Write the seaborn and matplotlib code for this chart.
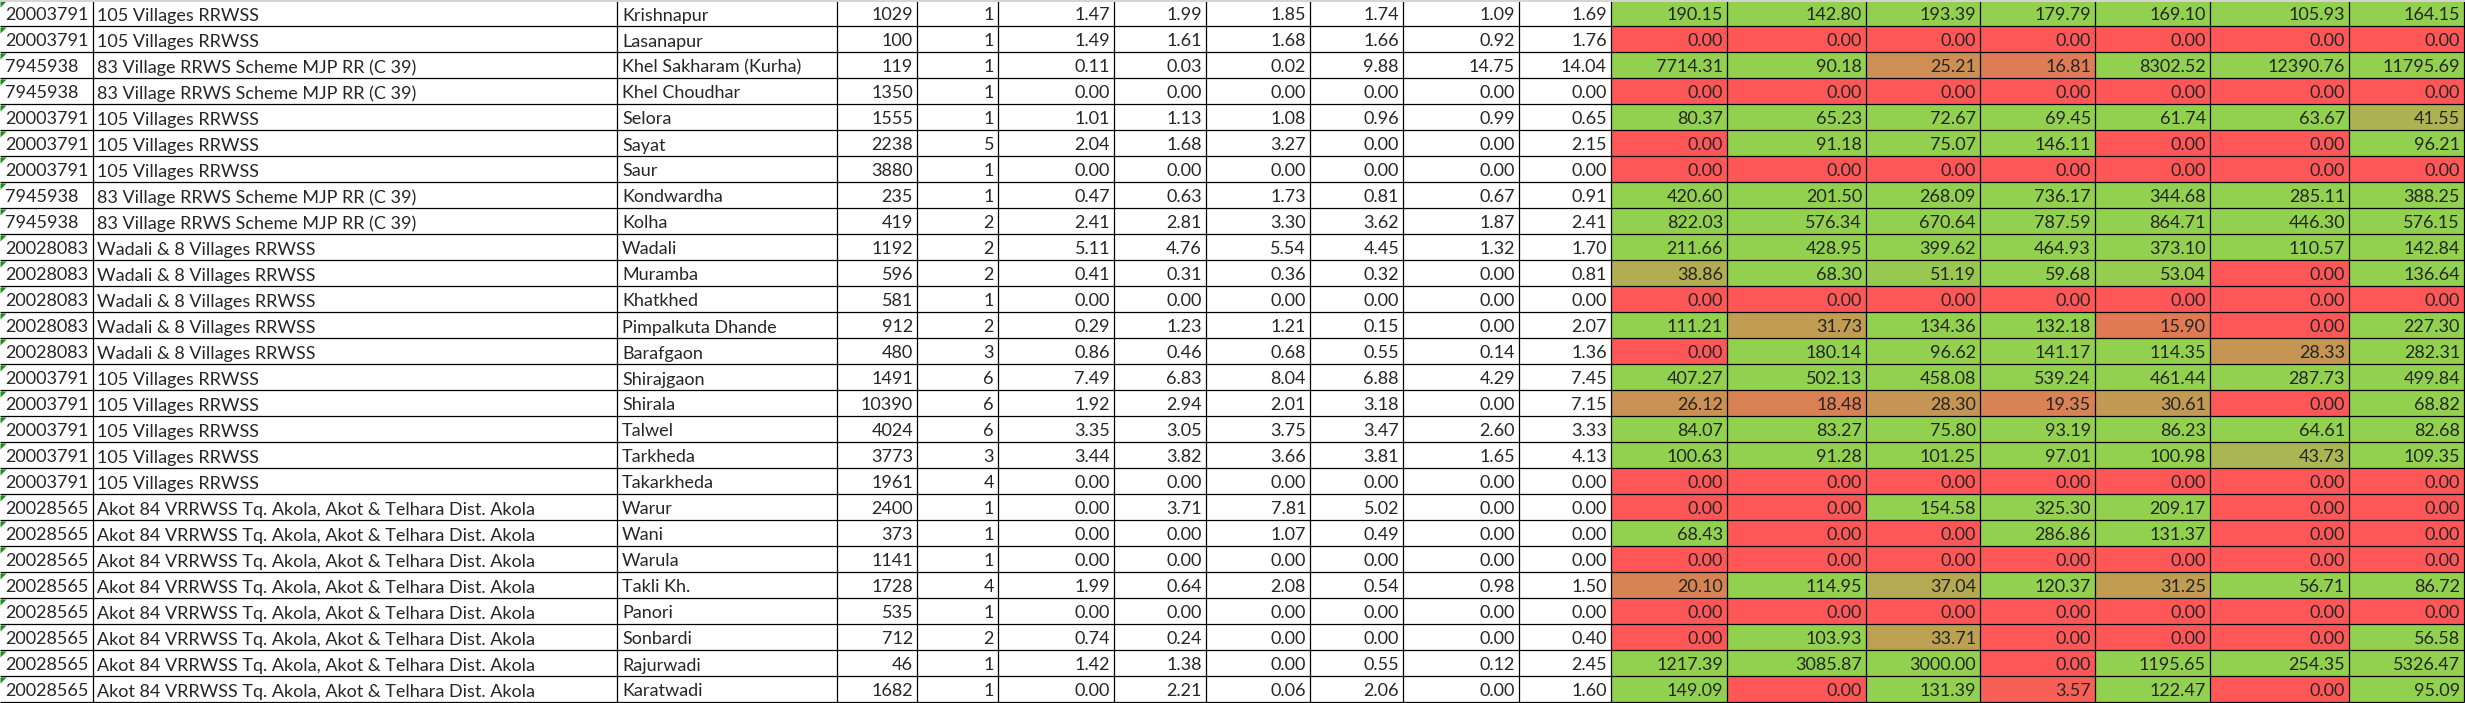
import numpy as np
import matplotlib.pyplot as plt
import seaborn as sns

sns.set_theme(style="white")
plt.rcParams["font.family"] = ["Lato", "DejaVu Sans"]

# scheme codes and names
schemes = {
    "20003791": "105 Villages RRWSS",
    "7945938": "83 Village RRWS Scheme MJP RR (C 39)",
    "20028083": "Wadali & 8 Villages RRWSS",
    "20028565": "Akot 84 VRRWSS Tq. Akola, Akot & Telhara Dist. Akola",
}

scheme_ids = [
    "20003791", "20003791", "7945938", "7945938", "20003791", "20003791",
    "20003791", "7945938", "7945938", "20028083", "20028083", "20028083",
    "20028083", "20028083", "20003791", "20003791", "20003791", "20003791",
    "20003791", "20028565", "20028565", "20028565", "20028565", "20028565",
    "20028565", "20028565", "20028565",
]

villages = [
    "Krishnapur", "Lasanapur", "Khel Sakharam (Kurha)", "Khel Choudhar",
    "Selora", "Sayat", "Saur", "Kondwardha", "Kolha", "Wadali", "Muramba",
    "Khatkhed", "Pimpalkuta Dhande", "Barafgaon", "Shirajgaon", "Shirala",
    "Talwel", "Tarkheda", "Takarkheda", "Warur", "Wani", "Warula",
    "Takli Kh.", "Panori", "Sonbardi", "Rajurwadi", "Karatwadi",
]

population = [1029, 100, 119, 1350, 1555, 2238, 3880, 235, 419, 1192, 596,
              581, 912, 480, 1491, 10390, 4024, 3773, 1961, 2400, 373, 1141,
              1728, 535, 712, 46, 1682]

sources = [1, 1, 1, 1, 1, 5, 1, 1, 2, 2, 2, 1, 2, 3, 6, 6, 6, 3, 4, 1, 1,
           1, 4, 1, 2, 1, 1]

# supply figures (six periods)
supply = [
    [1.47, 1.99, 1.85, 1.74, 1.09, 1.69],
    [1.49, 1.61, 1.68, 1.66, 0.92, 1.76],
    [0.11, 0.03, 0.02, 9.88, 14.75, 14.04],
    [0.00, 0.00, 0.00, 0.00, 0.00, 0.00],
    [1.01, 1.13, 1.08, 0.96, 0.99, 0.65],
    [2.04, 1.68, 3.27, 0.00, 0.00, 2.15],
    [0.00, 0.00, 0.00, 0.00, 0.00, 0.00],
    [0.47, 0.63, 1.73, 0.81, 0.67, 0.91],
    [2.41, 2.81, 3.30, 3.62, 1.87, 2.41],
    [5.11, 4.76, 5.54, 4.45, 1.32, 1.70],
    [0.41, 0.31, 0.36, 0.32, 0.00, 0.81],
    [0.00, 0.00, 0.00, 0.00, 0.00, 0.00],
    [0.29, 1.23, 1.21, 0.15, 0.00, 2.07],
    [0.86, 0.46, 0.68, 0.55, 0.14, 1.36],
    [7.49, 6.83, 8.04, 6.88, 4.29, 7.45],
    [1.92, 2.94, 2.01, 3.18, 0.00, 7.15],
    [3.35, 3.05, 3.75, 3.47, 2.60, 3.33],
    [3.44, 3.82, 3.66, 3.81, 1.65, 4.13],
    [0.00, 0.00, 0.00, 0.00, 0.00, 0.00],
    [0.00, 3.71, 7.81, 5.02, 0.00, 0.00],
    [0.00, 0.00, 1.07, 0.49, 0.00, 0.00],
    [0.00, 0.00, 0.00, 0.00, 0.00, 0.00],
    [1.99, 0.64, 2.08, 0.54, 0.98, 1.50],
    [0.00, 0.00, 0.00, 0.00, 0.00, 0.00],
    [0.74, 0.24, 0.00, 0.00, 0.00, 0.40],
    [1.42, 1.38, 0.00, 0.55, 0.12, 2.45],
    [0.00, 2.21, 0.06, 2.06, 0.00, 1.60],
]

# lpcd (seven periods), coloured red -> green
lpcd = [
    [190.15, 142.80, 193.39, 179.79, 169.10, 105.93, 164.15],
    [0.00, 0.00, 0.00, 0.00, 0.00, 0.00, 0.00],
    [7714.31, 90.18, 25.21, 16.81, 8302.52, 12390.76, 11795.69],
    [0.00, 0.00, 0.00, 0.00, 0.00, 0.00, 0.00],
    [80.37, 65.23, 72.67, 69.45, 61.74, 63.67, 41.55],
    [0.00, 91.18, 75.07, 146.11, 0.00, 0.00, 96.21],
    [0.00, 0.00, 0.00, 0.00, 0.00, 0.00, 0.00],
    [420.60, 201.50, 268.09, 736.17, 344.68, 285.11, 388.25],
    [822.03, 576.34, 670.64, 787.59, 864.71, 446.30, 576.15],
    [211.66, 428.95, 399.62, 464.93, 373.10, 110.57, 142.84],
    [38.86, 68.30, 51.19, 59.68, 53.04, 0.00, 136.64],
    [0.00, 0.00, 0.00, 0.00, 0.00, 0.00, 0.00],
    [111.21, 31.73, 134.36, 132.18, 15.90, 0.00, 227.30],
    [0.00, 180.14, 96.62, 141.17, 114.35, 28.33, 282.31],
    [407.27, 502.13, 458.08, 539.24, 461.44, 287.73, 499.84],
    [26.12, 18.48, 28.30, 19.35, 30.61, 0.00, 68.82],
    [84.07, 83.27, 75.80, 93.19, 86.23, 64.61, 82.68],
    [100.63, 91.28, 101.25, 97.01, 100.98, 43.73, 109.35],
    [0.00, 0.00, 0.00, 0.00, 0.00, 0.00, 0.00],
    [0.00, 0.00, 154.58, 325.30, 209.17, 0.00, 0.00],
    [68.43, 0.00, 0.00, 286.86, 131.37, 0.00, 0.00],
    [0.00, 0.00, 0.00, 0.00, 0.00, 0.00, 0.00],
    [20.10, 114.95, 37.04, 120.37, 31.25, 56.71, 86.72],
    [0.00, 0.00, 0.00, 0.00, 0.00, 0.00, 0.00],
    [0.00, 103.93, 33.71, 0.00, 0.00, 0.00, 56.58],
    [1217.39, 3085.87, 3000.00, 0.00, 1195.65, 254.35, 5326.47],
    [149.09, 0.00, 131.39, 3.57, 122.47, 0.00, 95.09],
]

W, H = 2465, 703
ROW_H = 26
col_edges = [0, 93, 617, 837, 917, 998, 1114, 1206, 1310, 1403, 1519,
             1611, 1727, 1866, 1980, 2095, 2210, 2349, 2464]

fig = plt.figure(figsize=(W / 100, H / 100), dpi=100)
ax = fig.add_axes([0, 0, 1, 1])
ax.set_xlim(0, W)
ax.set_ylim(H, 0)
ax.axis("off")

n = len(villages)
row_edges = np.arange(n + 1) * ROW_H

# conditional colour scale, 0 = red, >= 55 = green
cmap = sns.blend_palette(["#FF5757", "#92D050"], as_cmap=True)
ax.pcolormesh(col_edges[11:], row_edges, np.array(lpcd), cmap=cmap,
              vmin=0, vmax=55, shading="flat")

# grid
ax.hlines(row_edges[1:], 0, col_edges[-1], color="black", lw=0.9)
ax.vlines(col_edges[1:], 0, row_edges[-1], color="black", lw=0.9)
ax.axhline(0.8, color="#D4D4D4", lw=1.4)

fs = 18 * 72 / 100
for i in range(n):
    top = i * ROW_H
    base = top + 20.5
    # "number stored as text" marker
    ax.fill([0.5, 6.5, 0.5], [top + 1.5, top + 1.5, top + 7.5], color="#1E8A1E", lw=0)
    ax.text(5, base, scheme_ids[i], fontsize=fs, va="baseline", ha="left")
    ax.text(97, base, schemes[scheme_ids[i]], fontsize=fs, va="baseline", ha="left")
    ax.text(622, base, villages[i], fontsize=fs, va="baseline", ha="left")
    ax.text(col_edges[4] - 4, base, f"{population[i]}", fontsize=fs,
            va="baseline", ha="right")
    ax.text(col_edges[5] - 4, base, f"{sources[i]}", fontsize=fs,
            va="baseline", ha="right")
    for j, v in enumerate(supply[i]):
        ax.text(col_edges[6 + j] - 4, base, f"{v:.2f}", fontsize=fs,
                va="baseline", ha="right")
    for j, v in enumerate(lpcd[i]):
        ax.text(col_edges[12 + j] - 4, base, f"{v:.2f}", fontsize=fs,
                va="baseline", ha="right")

fig.savefig("out.png", dpi=100)
